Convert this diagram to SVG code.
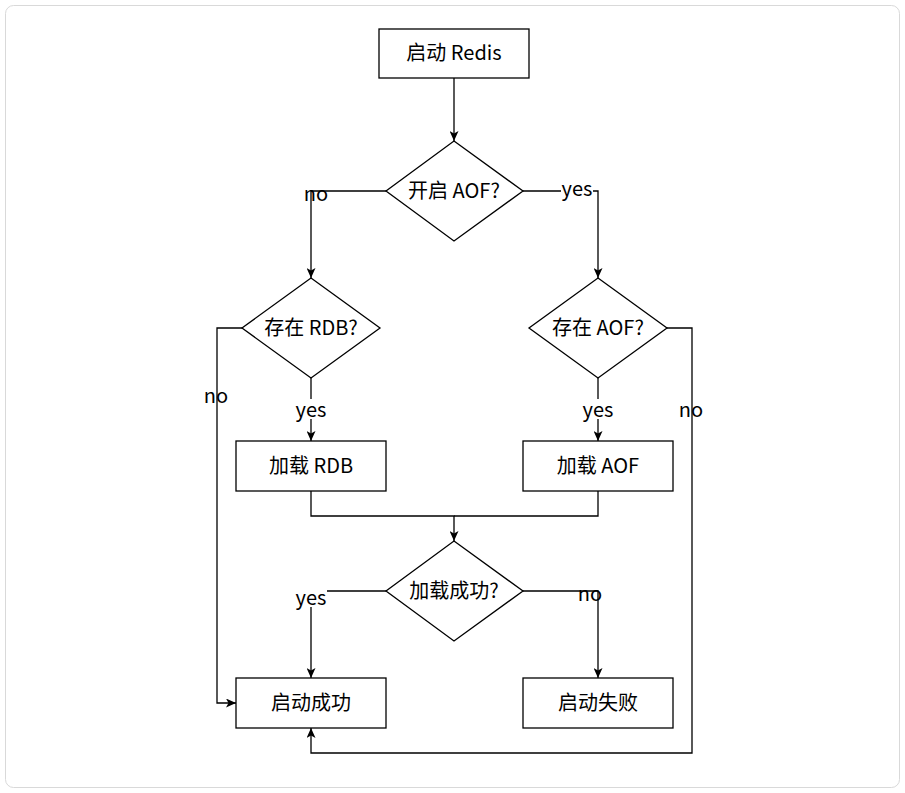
<svg xmlns="http://www.w3.org/2000/svg" width="905" height="793" viewBox="0 0 905 793">
<style>
.frame{fill:#fff;stroke:#d9d9d9;stroke-width:1}
.node{fill:#fff;stroke:#000;stroke-width:1.3}
.t{font-family:"Noto Sans CJK SC","Noto Sans",sans-serif;font-size:20px;fill:#000;text-anchor:middle;dominant-baseline:central}
.edge{fill:none;stroke:#000;stroke-width:1.3}
.lbg{fill:#fff}
</style>
<defs>
<marker id="arr" viewBox="0 0 10 9" refX="10" refY="4.5" markerWidth="11" markerHeight="9" orient="auto" markerUnits="userSpaceOnUse">
<path d="M0,0 L10,4.5 L0,9 L2.5,4.5 Z" fill="#000"/>
</marker>
</defs>
<rect class="frame" x="5.5" y="5.5" width="894" height="782" rx="8"/>
<g id="connectors">
<path class="edge" d="M454,78 L454,141" marker-end="url(#arr)"/>
<path class="edge" d="M386,191 L311,191 L311,278" marker-end="url(#arr)"/>
<path class="edge" d="M523,191 L598,191 L598,278" marker-end="url(#arr)"/>
<path class="edge" d="M311,378 L311,441" marker-end="url(#arr)"/>
<path class="edge" d="M598,378 L598,441" marker-end="url(#arr)"/>
<path class="edge" d="M242,328 L217,328 L217,703 L236,703" marker-end="url(#arr)"/>
<path class="edge" d="M667,328 L692,328 L692,753 L311,753 L311,728" marker-end="url(#arr)"/>
<path class="edge" d="M311,491 L311,516 L454,516 L454,541" marker-end="url(#arr)"/>
<path class="edge" d="M598,491 L598,516 L454,516"/>
<path class="edge" d="M386,591 L311,591 L311,678" marker-end="url(#arr)"/>
<path class="edge" d="M523,591 L598,591 L598,678" marker-end="url(#arr)"/>
<g id="edge-labels">
<text class="t" x="316" y="192">no</text>
<rect class="lbg" x="561" y="180" width="32" height="18"/>
<text class="t" x="577" y="187">yes</text>
<rect class="lbg" x="295" y="399" width="32" height="20"/>
<text class="t" x="311" y="408">yes</text>
<rect class="lbg" x="582" y="399" width="32" height="20"/>
<text class="t" x="598" y="408">yes</text>
<text class="t" x="216" y="394">no</text>
<text class="t" x="691" y="408">no</text>
<rect class="lbg" x="295" y="587" width="32" height="20"/>
<text class="t" x="311" y="596">yes</text>
<text class="t" x="590" y="592">no</text>
</g>
</g>
<g id="start"><rect class="node" x="379" y="29" width="150" height="49"/><text class="t" x="454" y="51">启动 Redis</text></g>
<g id="aof-enabled"><polygon class="node" points="454,141 523,191 454,241 386,191"/><text class="t" x="454" y="189">开启 AOF?</text></g>
<g id="rdb-exists"><polygon class="node" points="311,278 380,328 311,378 242,328"/><text class="t" x="311" y="326">存在 RDB?</text></g>
<g id="aof-exists"><polygon class="node" points="598,278 667,328 598,378 529,328"/><text class="t" x="598" y="326">存在 AOF?</text></g>
<g id="load-rdb"><rect class="node" x="236" y="441" width="150" height="50"/><text class="t" x="311" y="464">加载 RDB</text></g>
<g id="load-aof"><rect class="node" x="523" y="441" width="150" height="50"/><text class="t" x="598" y="464">加载 AOF</text></g>
<g id="load-ok"><polygon class="node" points="454,541 523,591 454,641 386,591"/><text class="t" x="454" y="589">加载成功?</text></g>
<g id="start-ok"><rect class="node" x="236" y="678" width="150" height="50"/><text class="t" x="311" y="701">启动成功</text></g>
<g id="start-fail"><rect class="node" x="523" y="678" width="150" height="50"/><text class="t" x="598" y="701">启动失败</text></g>
</svg>
